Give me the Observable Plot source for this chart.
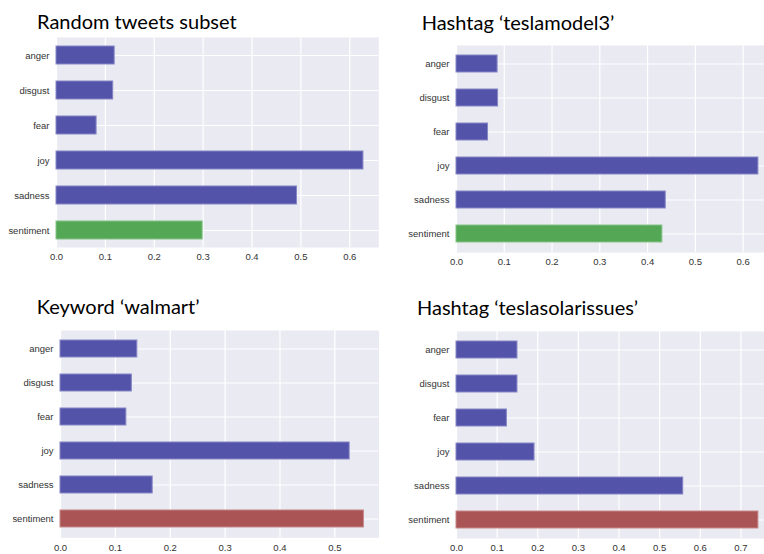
<!DOCTYPE html>
<html>
<head>
<meta charset="utf-8">
<script src="https://cdn.jsdelivr.net/npm/d3@7"></script>
<script src="https://cdn.jsdelivr.net/npm/@observablehq/plot@0.6"></script>
<style>
  html, body { margin: 0; padding: 0; background: #fff; width: 764px; height: 554px; overflow: hidden; }
  #root { position: relative; width: 764px; height: 554px; overflow: hidden; }
  .title { position: absolute; font-family: Lato, "Open Sans", sans-serif; font-size: 20px; line-height: 20px; color: #000; white-space: nowrap; }
  .panel { position: absolute; }
</style>
</head>
<body>
<div id="root"></div>
<script>
// ---- data ----
const emotions = ["anger", "disgust", "fear", "joy", "sadness", "sentiment"];
const titles = ["Random tweets subset", "Hashtag \u2018teslamodel3\u2019", "Keyword \u2018walmart\u2019", "Hashtag \u2018teslasolarissues\u2019"];
const randomValues = [0.119, 0.116, 0.082, 0.628, 0.492, 0.299];
const teslamodel3Values = [0.086, 0.087, 0.066, 0.632, 0.438, 0.431];
const walmartValues = [0.140, 0.130, 0.120, 0.527, 0.168, 0.553];
const teslasolarValues = [0.150, 0.150, 0.124, 0.192, 0.558, 0.743];
const sentimentPolarity = ["positive", "positive", "negative", "negative"];

// ---- styles ----
const emotionFill = "#5353A9", emotionStroke = "#8686C6";
const polarityFill = {positive: "#53A755", negative: "#AA5456"};
const polarityStroke = {positive: "#86C488", negative: "#C68889"};

// ---- layout (plot frame positions in page px) ----
const layouts = [
  {left: 56,    top: 37,    width: 322.3, height: 210,   tx: 37,    ty: 11},
  {left: 456.3, top: 45.4,  width: 317,   height: 207,   tx: 421.7, ty: 12},
  {left: 59.7,  top: 330,   width: 318.6, height: 207.3, tx: 36.7,  ty: 295.5},
  {left: 456,   top: 330.5, width: 317,   height: 207,   tx: 417,   ty: 297}
];
const allValues = [randomValues, teslamodel3Values, walmartValues, teslasolarValues];

const root = document.getElementById("root");
const mL = 64, mT = 4, mR = 6, mB = 24;

allValues.forEach((vals, i) => {
  const L = layouts[i];
  const pol = sentimentPolarity[i];
  const data = emotions.map((e, k) => ({emotion: e, value: vals[k],
    fill: e === "sentiment" ? polarityFill[pol] : emotionFill,
    stroke: e === "sentiment" ? polarityStroke[pol] : emotionStroke}));
  const xmax = d3.max(vals) * 1.05;
  const plot = Plot.plot({
    width: L.width + mL + mR,
    height: L.height + mT + mB,
    marginLeft: mL, marginTop: mT, marginRight: mR, marginBottom: mB,
    style: {fontFamily: "'Liberation Sans', Arial, sans-serif", fontSize: "9.5px", color: "#333", background: "transparent", overflow: "visible"},
    x: {domain: [0, xmax], ticks: d3.range(0, xmax, 0.1).map(v => +v.toFixed(1)), tickFormat: d3.format(".1f"), label: null, tickSize: 0, tickPadding: 6},
    y: {domain: emotions, paddingInner: 0.5, paddingOuter: 0.25, label: null, tickSize: 0, tickPadding: 7},
    marks: [
      Plot.frame({fill: "#EAEAF2", stroke: null}),
      Plot.gridX({ticks: d3.range(0, xmax, 0.1).map(v => +v.toFixed(1)), stroke: "#fff", strokeOpacity: 1, strokeWidth: 1.2}),
      Plot.gridY({stroke: "#fff", strokeOpacity: 1, strokeWidth: 1.2}),
      Plot.barX(data, {x: "value", y: "emotion", fill: "fill", stroke: "stroke", strokeWidth: 1, inset: 0}),
      Plot.axisX({tickSize: 0, tickPadding: 6, ticks: d3.range(0, xmax, 0.1).map(v => +v.toFixed(1)), tickFormat: d3.format(".1f"), label: null}),
      Plot.axisY({tickSize: 0, tickPadding: 7, label: null})
    ]
  });
  plot.classList.add("panel");
  plot.style.left = (L.left - mL) + "px";
  plot.style.top = (L.top - mT) + "px";
  root.appendChild(plot);

  const t = document.createElement("div");
  t.className = "title";
  t.textContent = titles[i];
  t.style.left = L.tx + "px";
  t.style.top = L.ty + "px";
  root.appendChild(t);
});
</script>
</body>
</html>
